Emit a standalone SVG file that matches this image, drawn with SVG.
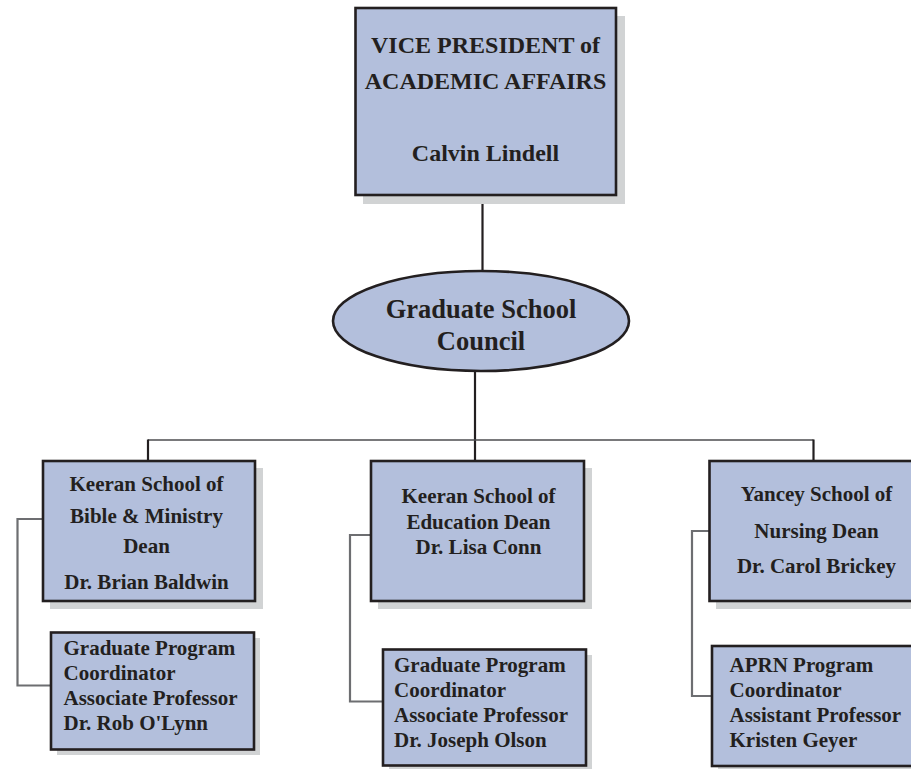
<svg xmlns="http://www.w3.org/2000/svg" width="911" height="769" viewBox="0 0 911 769">
<style>
.shadow{fill:#d1d3d4;stroke:none}
.box{fill:#b3bfdc;stroke:#231f20;stroke-width:2.6}
.t{font-family:"Liberation Serif","Times New Roman",serif;font-weight:bold;fill:#231f20}
.big{font-size:24px}
.ell{font-size:26.5px}
.s{font-size:21px}
.c{text-anchor:middle}
.dark{stroke:#231f20;stroke-width:2.2;fill:none}
.thin{stroke:#4d4d4f;stroke-width:1.6;fill:none}
.br{stroke:#6d6e71;stroke-width:2.2;fill:none}
</style>
<rect width="911" height="769" fill="#ffffff"/>
<g id="connectors">
<line class="dark" x1="482.5" y1="196" x2="482.5" y2="272"/>
<line class="dark" x1="475" y1="370" x2="475" y2="461"/>
<line class="thin" x1="148" y1="440" x2="813.5" y2="440"/>
<line class="dark" x1="148" y1="439.5" x2="148" y2="461"/>
<line class="dark" x1="813.5" y1="439.5" x2="813.5" y2="461"/>
<path class="br" d="M43,519 H17.5 V685.5 H51"/>
<path class="br" d="M371,535 H350 V701.5 H383"/>
<path class="br" d="M709.5,531 H692 V696 H712"/>
</g>
<g id="vp">
<rect class="shadow" x="363" y="16" width="262" height="188"/>
<rect class="box" x="355.5" y="8" width="260.5" height="187"/>
<text class="t big c" x="485.5" y="53">VICE PRESIDENT of</text>
<text class="t big c" x="485.5" y="89">ACADEMIC AFFAIRS</text>
<text class="t big c" x="485.5" y="161">Calvin Lindell</text>
</g>
<g id="council">
<ellipse cx="481" cy="321" rx="148" ry="50" fill="#b3bfdc" stroke="#231f20" stroke-width="2.6"/>
<text class="t ell c" x="481" y="318">Graduate School</text>
<text class="t ell c" x="481" y="350">Council</text>
</g>
<g id="bible-dean">
<rect class="shadow" x="50" y="468" width="213" height="141"/>
<rect class="box" x="43" y="461" width="212" height="140"/>
<text class="t s c" x="146.5" y="491">Keeran School of</text>
<text class="t s c" x="146.5" y="523">Bible &amp; Ministry</text>
<text class="t s c" x="146.5" y="553">Dean</text>
<text class="t s c" x="146.5" y="589">Dr. Brian Baldwin</text>
</g>
<g id="bible-coord">
<rect class="shadow" x="57" y="638" width="203" height="117"/>
<rect class="box" x="51" y="632.5" width="203" height="117"/>
<text class="t s" x="63.5" y="655">Graduate Program</text>
<text class="t s" x="63.5" y="680">Coordinator</text>
<text class="t s" x="63.5" y="705">Associate Professor</text>
<text class="t s" x="63.5" y="730">Dr. Rob O'Lynn</text>
</g>
<g id="edu-dean">
<rect class="shadow" x="378" y="468" width="214" height="141"/>
<rect class="box" x="371" y="461" width="213" height="140"/>
<text class="t s c" x="478.5" y="503">Keeran School of</text>
<text class="t s c" x="478.5" y="529">Education Dean</text>
<text class="t s c" x="478.5" y="554">Dr. Lisa Conn</text>
</g>
<g id="edu-coord">
<rect class="shadow" x="389" y="655" width="203" height="117"/>
<rect class="box" x="383" y="649.5" width="203" height="116"/>
<text class="t s" x="394" y="672">Graduate Program</text>
<text class="t s" x="394" y="697">Coordinator</text>
<text class="t s" x="394" y="722">Associate Professor</text>
<text class="t s" x="394" y="747">Dr. Joseph Olson</text>
</g>
<g id="nursing-dean">
<rect class="shadow" x="716" y="468" width="215" height="141"/>
<rect class="box" x="709.5" y="461" width="215" height="140"/>
<text class="t s c" x="816.5" y="501">Yancey School of</text>
<text class="t s c" x="816.5" y="538">Nursing Dean</text>
<text class="t s c" x="816.5" y="573">Dr. Carol Brickey</text>
</g>
<g id="nursing-coord">
<rect class="shadow" x="718" y="652" width="212" height="120"/>
<rect class="box" x="712" y="646" width="212" height="120"/>
<text class="t s" x="729.5" y="672">APRN Program</text>
<text class="t s" x="729.5" y="697">Coordinator</text>
<text class="t s" x="729.5" y="722">Assistant Professor</text>
<text class="t s" x="729.5" y="747">Kristen Geyer</text>
</g>
</svg>
